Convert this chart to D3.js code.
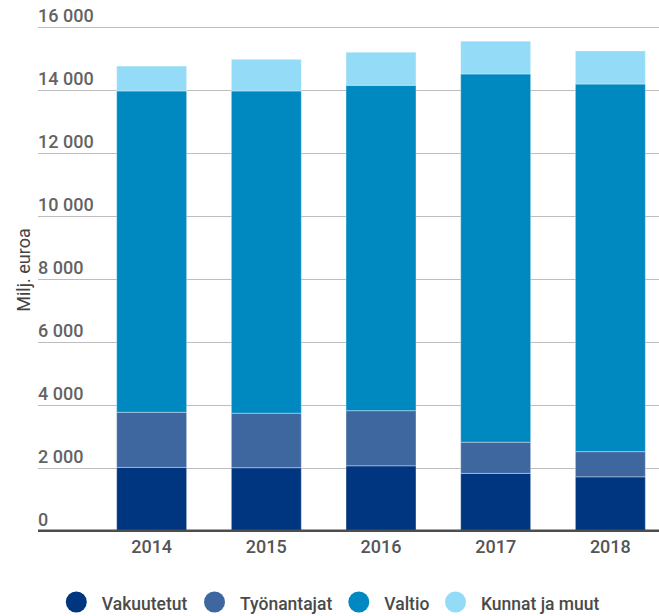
<!DOCTYPE html>
<html>
<head>
<meta charset="utf-8">
<script src="https://cdn.jsdelivr.net/npm/d3@7"></script>
<style>
  body { margin: 0; background: #fff; }
  svg { display: block; font-family: Roboto, "Noto Sans", sans-serif; }
</style>
</head>
<body>
<svg></svg>
<script>
let years = ["2014", "2015", "2016", "2017", "2018"];
let seriesNames = ["Vakuutetut", "Työnantajat", "Valtio", "Kunnat ja muut"];
let vakuutetut = [2010, 2000, 2060, 1820, 1710];
let tyonantajat = [1750, 1730, 1750, 990, 800];
let valtio = [10200, 10230, 10330, 11690, 11670];
let kunnat = [790, 1005, 1050, 1040, 1050];
let yTicks = [0, 2000, 4000, 6000, 8000, 10000, 12000, 14000, 16000];
let colors = ["#003580", "#3e67a0", "#0089c0", "#93dbf7"];

let width = 659;
let height = 616;
let plotLeft = 38;
let plotTop = 26.7;
let plotBottom = 530.7;

let svg = d3.select("svg")
    .attr("width", width)
    .attr("height", height);

// rows for the stack
let table = years.map((y, i) => ({
    year: y,
    "Vakuutetut": vakuutetut[i],
    "Työnantajat": tyonantajat[i],
    "Valtio": valtio[i],
    "Kunnat ja muut": kunnat[i]
}));

let stacked = d3.stack().keys(seriesNames)(table);

let xScale = d3.scaleBand()
    .domain(years)
    .range([plotLeft, 724])
    .paddingInner(0.39)
    .paddingOuter(0.686);

let yScale = d3.scaleLinear()
    .domain([0, 16000])
    .range([plotBottom, plotTop]);

let fmt = d3.formatLocale({decimal: ",", thousands: " ", grouping: [3], currency: ["", "€"]}).format(",d");

// gridlines + tick labels
let grid = svg.append("g");
grid.selectAll("line")
    .data(yTicks.filter(d => d > 0))
    .enter()
    .append("line")
    .attr("x1", plotLeft)
    .attr("x2", width)
    .attr("y1", d => Math.round(yScale(d)) + 0.5)
    .attr("y2", d => Math.round(yScale(d)) + 0.5)
    .attr("stroke", "#bdbdbd")
    .attr("stroke-width", 1.2);

grid.selectAll("text")
    .data(yTicks)
    .enter()
    .append("text")
    .attr("x", plotLeft)
    .attr("y", d => yScale(d) - 4.5)
    .attr("fill", "#636363")
    .style("font-size", "18px")
    .style("font-weight", 500)
    .text(d => fmt(d));

// bars
svg.append("g")
    .selectAll("g")
    .data(stacked)
    .enter()
    .append("g")
    .attr("fill", (d, i) => colors[i])
    .selectAll("rect")
    .data(d => d)
    .enter()
    .append("rect")
    .attr("x", d => xScale(d.data.year))
    .attr("width", xScale.bandwidth())
    .attr("y", d => yScale(d[1]))
    .attr("height", d => yScale(d[0]) - yScale(d[1]))
    .attr("stroke", "rgba(255,255,255,0.35)")
    .attr("stroke-width", 1);

// baseline
svg.append("line")
    .attr("x1", plotLeft)
    .attr("x2", width)
    .attr("y1", plotBottom)
    .attr("y2", plotBottom)
    .attr("stroke", "#4d4d4d")
    .attr("stroke-width", 2.5);

// x labels
svg.append("g")
    .selectAll("text")
    .data(years)
    .enter()
    .append("text")
    .attr("x", d => xScale(d) + xScale.bandwidth() / 2)
    .attr("y", 553)
    .attr("text-anchor", "middle")
    .attr("fill", "#555")
    .style("font-size", "18px")
    .style("font-weight", 500)
    .text(d => d);

// y title
svg.append("text")
    .attr("transform", "translate(30,270)rotate(-90)")
    .attr("text-anchor", "middle")
    .attr("fill", "#444")
    .style("font-size", "18px")
    .text("Milj. euroa");

let legendX = [76.3, 214.5, 358.8, 455.5];
let legend = svg.append("g")
    .selectAll("g")
    .data(seriesNames)
    .enter()
    .append("g")
    .attr("transform", (d, i) => "translate(" + legendX[i] + ",602)");

legend.append("circle")
    .attr("r", 10.5)
    .attr("fill", (d, i) => colors[i]);

legend.append("text")
    .attr("x", 25.5)
    .attr("y", 7.5)
    .attr("fill", "#4a4a4a")
    .style("font-size", "17.5px")
    .style("font-weight", 500)
    .text(d => d);
</script>
</body>
</html>
